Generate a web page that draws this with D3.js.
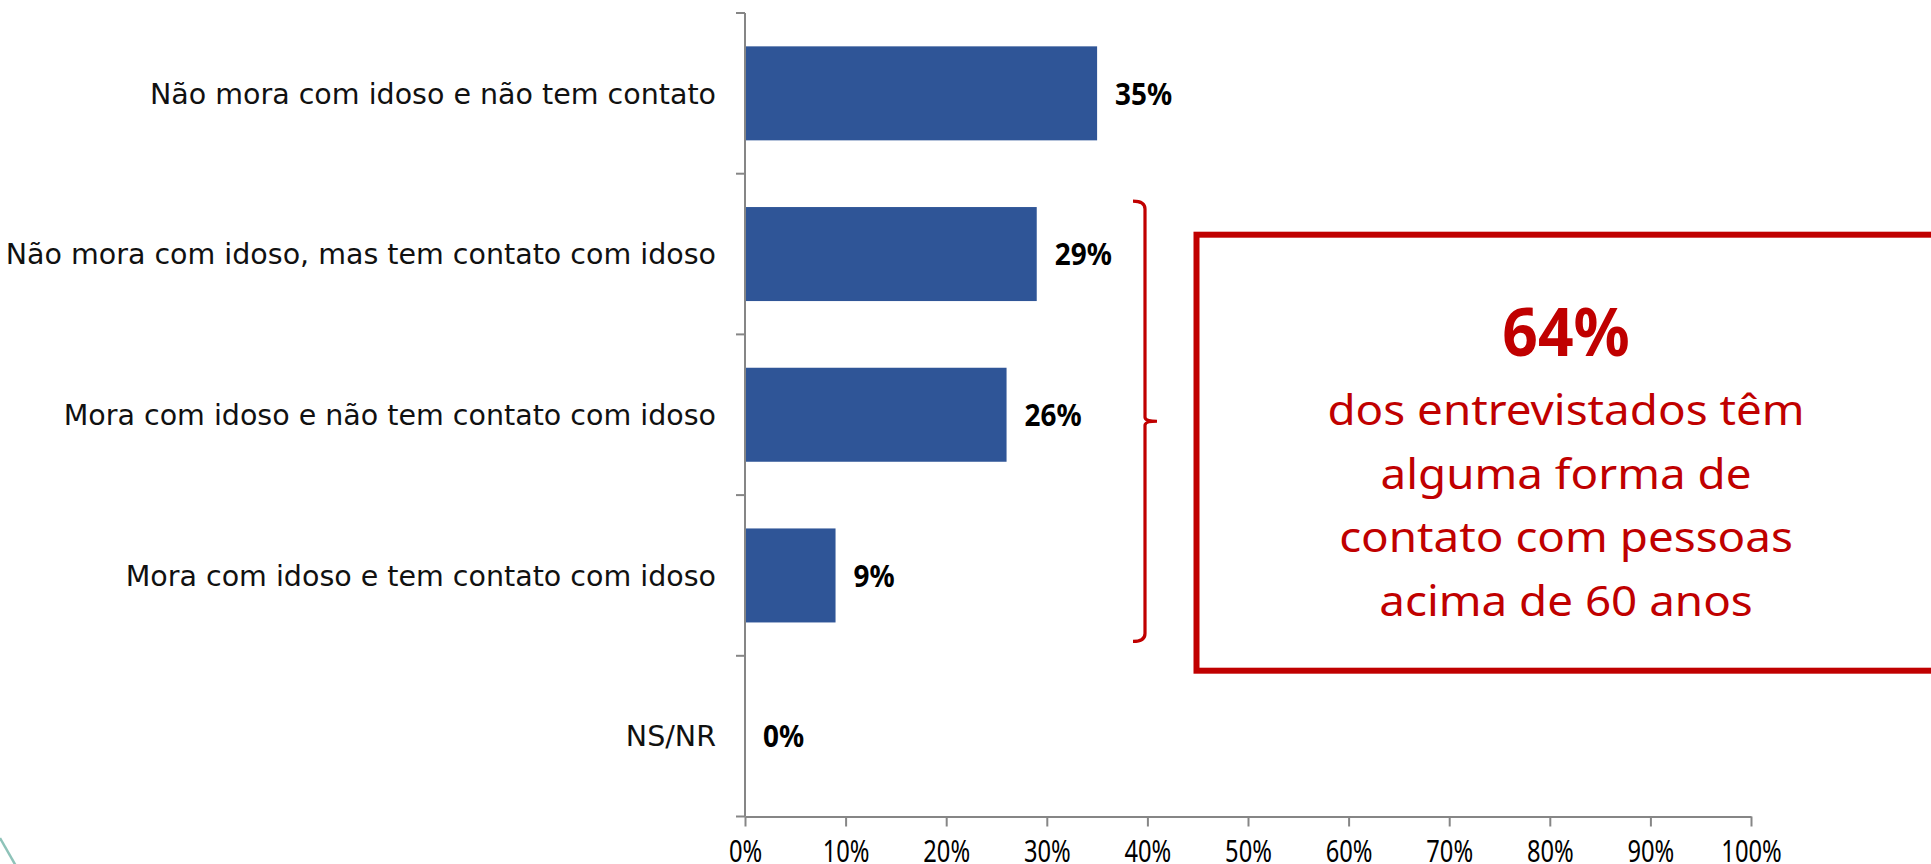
<!DOCTYPE html>
<html>
<head>
<meta charset="utf-8">
<script src="https://cdn.jsdelivr.net/npm/d3@7"></script>
<style>
  html, body { margin: 0; padding: 0; background: #ffffff; overflow: hidden; }
  svg { display: block; }
</style>
</head>
<body>
<svg id="chart" width="1931" height="864"></svg>
<script>
// ---- data ----
const categories = [
  "Não mora com idoso e não tem contato",
  "Não mora com idoso, mas tem contato com idoso",
  "Mora com idoso e não tem contato com idoso",
  "Mora com idoso e tem contato com idoso",
  "NS/NR"
];
const values = [35, 29, 26, 9, 0];
const xTicks = [0, 10, 20, 30, 40, 50, 60, 70, 80, 90, 100];
const calloutValue = "64%";
const calloutLines = [
  "dos entrevistados têm",
  "alguma forma de",
  "contato com pessoas",
  "acima de 60 anos"
];
// categories covered by the bracket
const bracketFrom = 1, bracketTo = 3;

// ---- drawing ----
const svg = d3.select("#chart");
const axisColor = "#868686";
const barColor = "#2F5597";
const red = "#C00000";

const x = d3.scaleLinear().domain([0, 100]).range([745, 1751]);
const y = d3.scaleBand().domain(categories).range([13, 816.5])
  .paddingInner(0.415).paddingOuter(0.2075);

// decorative slide line bottom-left
svg.append("line")
  .attr("x1", 0).attr("y1", 838).attr("x2", 16).attr("y2", 866)
  .attr("stroke", "#8ec3b9").attr("stroke-width", 2.5);

// bars
svg.append("g").selectAll("rect")
  .data(values)
  .join("rect")
  .attr("x", x(0))
  .attr("y", (d, i) => y(categories[i]))
  .attr("width", d => x(d) - x(0))
  .attr("height", y.bandwidth())
  .attr("fill", barColor);

// y axis (category boundaries ticks)
const yAxis = svg.append("g");
const [y0, y1] = y.range();
yAxis.append("line")
  .attr("x1", x(0)).attr("x2", x(0)).attr("y1", y0).attr("y2", y1)
  .attr("stroke", axisColor).attr("stroke-width", 2);
yAxis.selectAll("line.tick")
  .data(d3.range(categories.length + 1))
  .join("line")
  .attr("class", "tick")
  .attr("x1", x(0) - 9).attr("x2", x(0))
  .attr("y1", i => y0 + i * y.step())
  .attr("y2", i => y0 + i * y.step())
  .attr("stroke", axisColor).attr("stroke-width", 2);

// category labels
svg.append("g").selectAll("text")
  .data(categories)
  .join("text")
  .attr("x", x(0) - 29)
  .attr("y", d => y(d) + y.bandwidth() / 2)
  .attr("dy", "0.36em")
  .attr("text-anchor", "end")
  .attr("font-family", "'DejaVu Sans', sans-serif")
  .attr("font-size", 28.5)
  .attr("fill", "#111")
  .text(d => d);

// x axis
const xAxis = svg.append("g")
  .attr("transform", `translate(0,${y1})`)
  .call(d3.axisBottom(x).tickValues(xTicks).tickFormat(d => d + "%")
    .tickSizeInner(10).tickSizeOuter(0).tickPadding(14.5));
xAxis.select(".domain").attr("stroke", axisColor).attr("stroke-width", 2);
xAxis.selectAll(".tick line").attr("stroke", axisColor).attr("stroke-width", 2);
xAxis.selectAll(".tick text")
  .attr("font-family", "'Noto Sans', 'Open Sans', sans-serif")
  .attr("font-size", 30)
  .attr("fill", "#000")
  .attr("transform", "scale(0.79,1)");

// value labels
svg.append("g").selectAll("text")
  .data(values)
  .join("text")
  .attr("transform", (d, i) =>
    `translate(${x(d) + 18},${y(categories[i]) + y.bandwidth() / 2}) scale(0.9,1)`)
  .attr("dy", "0.36em")
  .attr("font-family", "'Noto Sans', 'Open Sans', sans-serif")
  .attr("font-weight", "bold")
  .attr("font-size", 31)
  .attr("fill", "#000")
  .text(d => d + "%");

// bracket "}"
const bTop = y(categories[bracketFrom]) - 6;
const bBot = y(categories[bracketTo]) + y.bandwidth() + 19;
const bMid = (bTop + bBot) / 2;
const bx = 1145;
const bracket = d3.path();
bracket.moveTo(bx - 12, bTop);
bracket.quadraticCurveTo(bx, bTop, bx, bTop + 8);
bracket.lineTo(bx, bMid - 4);
bracket.quadraticCurveTo(bx, bMid, bx + 12, bMid);
bracket.quadraticCurveTo(bx, bMid, bx, bMid + 4);
bracket.lineTo(bx, bBot - 8);
bracket.quadraticCurveTo(bx, bBot, bx - 12, bBot);
svg.append("path")
  .attr("d", bracket.toString())
  .attr("fill", "none")
  .attr("stroke", red)
  .attr("stroke-width", 3.2);

// callout box
svg.append("rect")
  .attr("x", 1196.5).attr("y", 234.7)
  .attr("width", 739).attr("height", 436)
  .attr("fill", "none")
  .attr("stroke", red)
  .attr("stroke-width", 6);

const cx = 1566;
svg.append("text")
  .attr("transform", `translate(${cx},356) scale(0.93,1)`)
  .attr("text-anchor", "middle")
  .attr("font-family", "'Noto Sans', 'Open Sans', sans-serif")
  .attr("font-weight", "bold")
  .attr("font-size", 67)
  .attr("fill", red)
  .text(calloutValue);

svg.append("g").selectAll("text")
  .data(calloutLines)
  .join("text")
  .attr("transform", (d, i) => `translate(${cx},${425 + i * 63.5}) scale(1.09,1)`)
  .attr("text-anchor", "middle")
  .attr("font-family", "'Noto Sans', 'Open Sans', sans-serif")
  .attr("font-size", 42)
  .attr("fill", red)
  .text(d => d);
</script>
</body>
</html>
